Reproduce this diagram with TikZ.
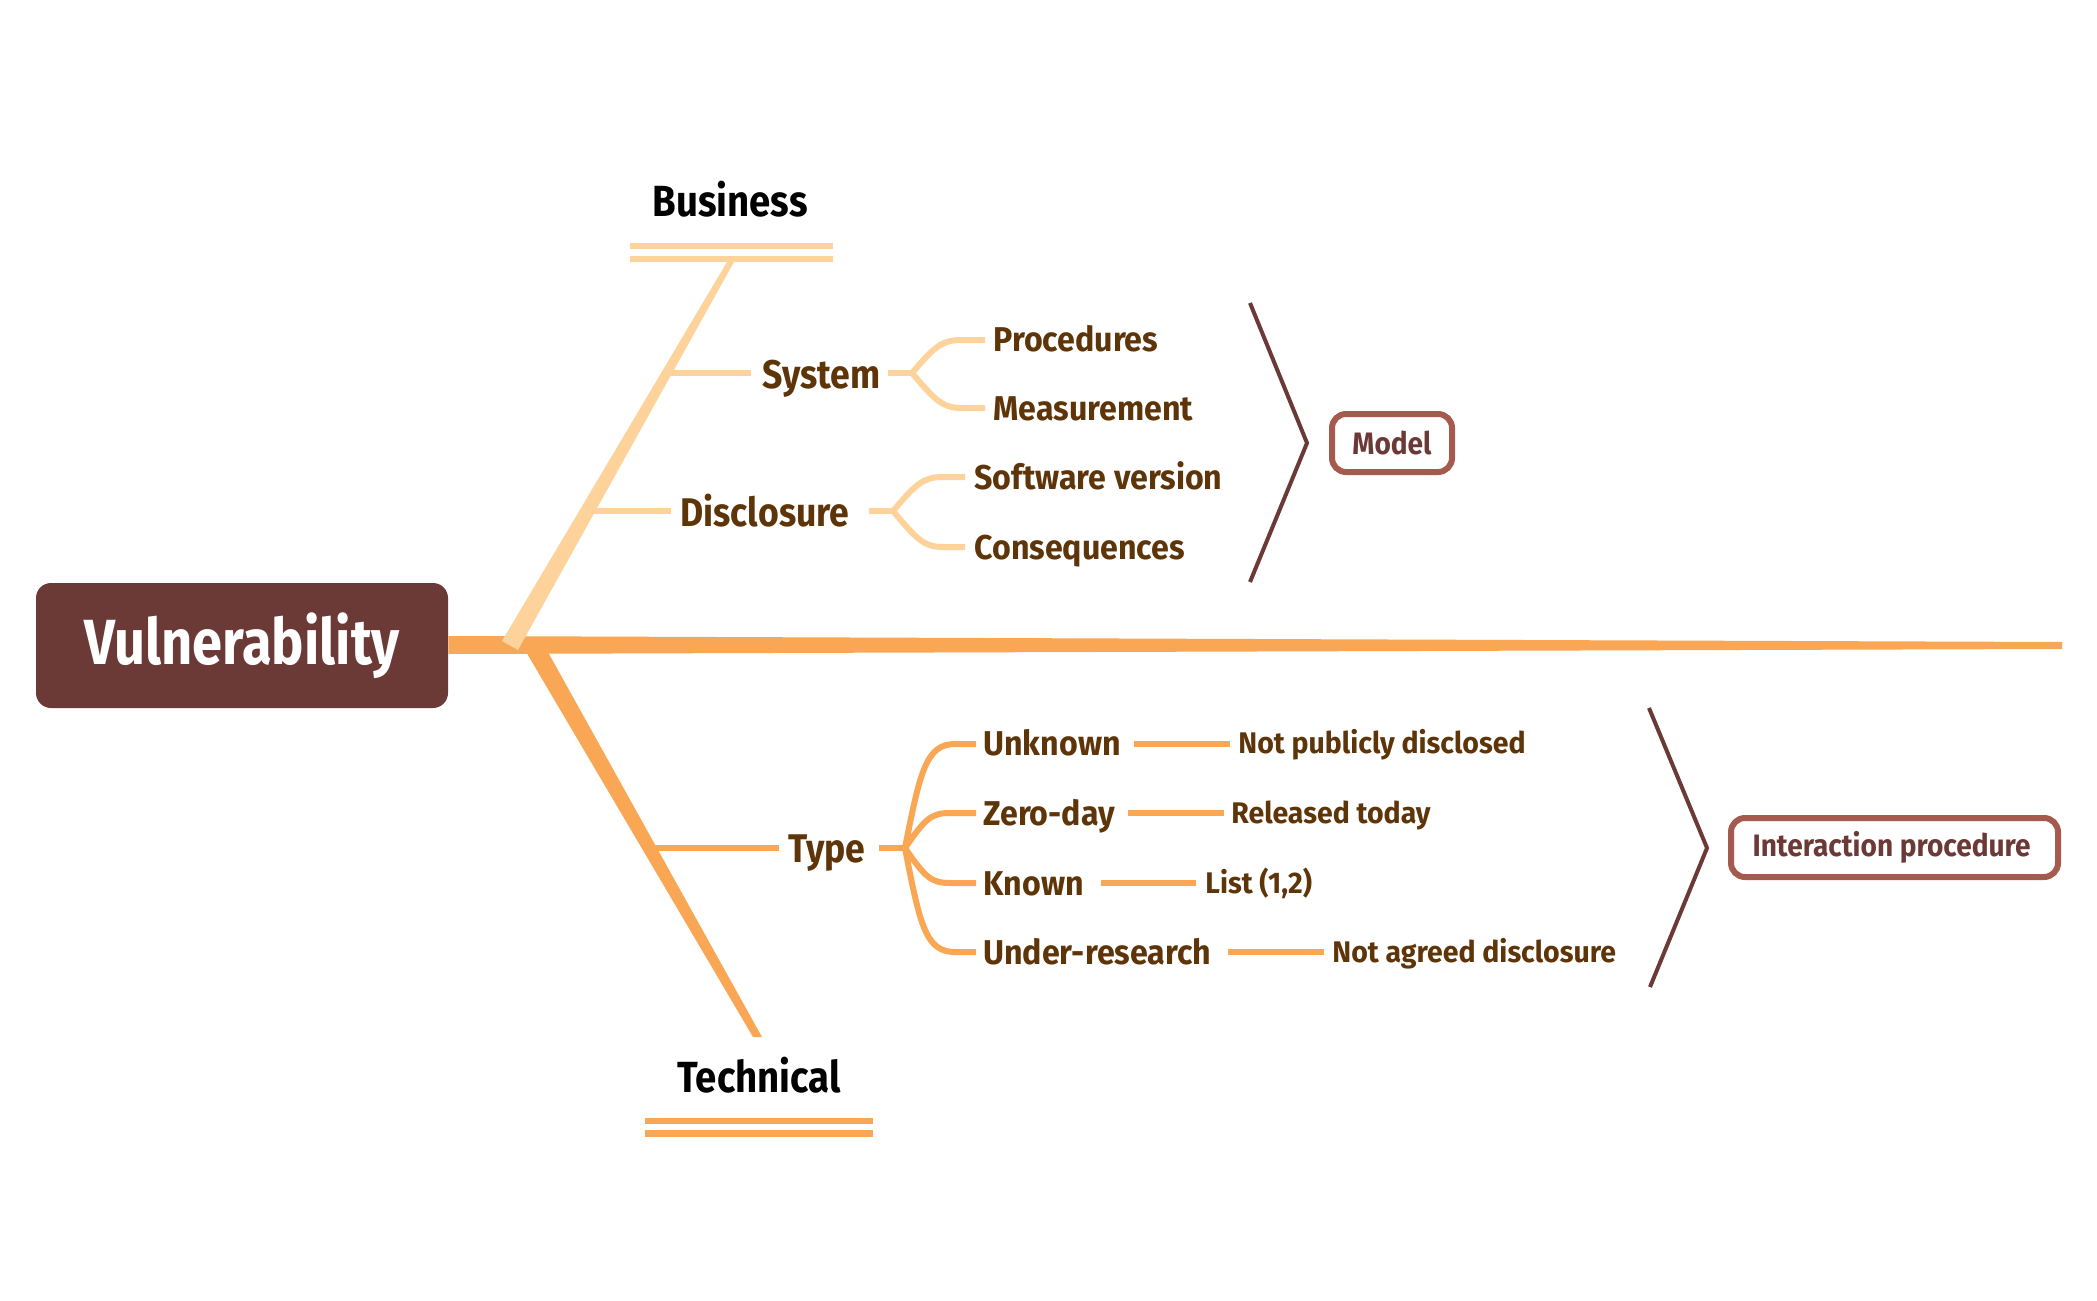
\documentclass[tikz,border=0pt]{standalone}
\usepackage{fontspec}
\setmainfont{Fira Sans}
\newfontfamily\lblfont[FakeStretch=0.89]{Fira Sans}
\newfontfamily\lbltwofont[FakeStretch=0.935]{Fira Sans}
\newfontfamily\lblthreefont[FakeStretch=0.955]{Fira Sans}
\newfontfamily\titlefont[FakeStretch=0.85]{Fira Sans}
\newfontfamily\headfont[FakeStretch=0.88]{Fira Sans}
\newfontfamily\tagfont[FakeStretch=0.905]{Fira Sans}
\definecolor{vbrown}{HTML}{6B3A37}
\definecolor{spine}{HTML}{F9A655}
\definecolor{peach}{HTML}{FDD39B}
\definecolor{lbl}{HTML}{5E3409}
\definecolor{boxline}{HTML}{A65A4E}
\begin{document}
\begin{tikzpicture}[x=0.5pt,y=-0.5pt,
  lvlone/.style={font=\lblfont\bfseries\fontsize{20}{24}\selectfont, text=lbl, inner sep=0pt, anchor=base west},
  lvltwo/.style={font=\lbltwofont\bfseries\fontsize{17.2}{20}\selectfont, text=lbl, inner sep=0pt, anchor=base west},
  lvlthree/.style={font=\lblthreefont\bfseries\fontsize{14.9}{18}\selectfont, text=lbl, inner sep=0pt, anchor=base west},
  head/.style={font=\headfont\bfseries\fontsize{21.8}{26}\selectfont, text=black, inner sep=0pt, anchor=base},
  peachline/.style={draw=peach, line width=3pt},
  orline/.style={draw=spine, line width=3pt},
  dbl/.style={line width=3.25pt},
  bracket/.style={draw=vbrown, line width=2pt},
  tagbox/.style={draw=boxline, line width=3pt, rounded corners=7pt, fill=white, text=vbrown,
     font=\tagfont\bfseries\fontsize{15.5}{18}\selectfont, inner sep=0pt, anchor=center}
]
\useasboundingbox (0,0) rectangle (2097,1300);
\fill[white] (0,0) rectangle (2097,1300);

% ---- root
\node[fill=vbrown, rounded corners=7.5pt, minimum width=206pt, minimum height=62.5pt,
      text=white, font=\titlefont\bfseries\fontsize{31.9}{36}\selectfont, inner sep=0pt]
      (root) at (242,645.5) {Vulnerability};

% ---- spine and main branches
\fill[spine] (root.east |- 0,636) -- (2062,642) -- (2062,649) -- (root.east |- 0,654) -- cycle;
\fill[spine] (522,645) -- (544,645) -- (762,1037) -- (753,1037) -- cycle;
\fill[peach] (502,641) -- (518,650) -- (734,262) -- (727,262) -- cycle;

% ---- headings
\node[head] (business) at (730,217) {Business};
\draw[peach, dbl] (630,246) -- (833,246);
\draw[peach, dbl] (630,259) -- (833,259);
\node[head] (technical) at (759,1092) {Technical};
\draw[spine, dbl] (645,1121) -- (873,1121);
\draw[spine, dbl] (645,1133.5) -- (873,1133.5);

% ---- Business side
\node[lvlone] (system) at (762,388) {System};
\node[lvltwo] (proc) at (993,351) {Procedures};
\node[lvltwo] (meas) at (993,420) {Measurement};
\coordinate (sysA) at (668,373);
\coordinate (sysB) at (751,373);
\coordinate (sysC) at (888,373);
\coordinate (sysF) at (912,373);
\coordinate (procE) at (985,340);
\coordinate (measE) at (985,408);
\draw[peachline] (sysA) -- (sysB);
\draw[peachline] (sysC) -- (sysF);
\draw[peachline] (sysF) .. controls (935,346) and (942,340) .. (962,340) -- (procE);
\draw[peachline] (sysF) .. controls (935,400) and (942,408) .. (962,408) -- (measE);

\node[lvlone] (disc) at (680,526) {Disclosure};
\node[lvltwo] (soft) at (974,489) {Software version};
\node[lvltwo] (cons) at (974,559) {Consequences};
\coordinate (discA) at (593,511);
\coordinate (discB) at (671,511);
\coordinate (discC) at (869,511);
\coordinate (discF) at (893,511);
\coordinate (softE) at (965,477);
\coordinate (consE) at (965,547);
\draw[peachline] (discA) -- (discB);
\draw[peachline] (discC) -- (discF);
\draw[peachline] (discF) .. controls (916,484) and (923,477) .. (943,477) -- (softE);
\draw[peachline] (discF) .. controls (916,538) and (923,547) .. (943,547) -- (consE);

\coordinate (brA1) at (1250,303);
\coordinate (brA2) at (1307,443);
\coordinate (brA3) at (1250,582);
\draw[bracket] (brA1) -- (brA2) -- (brA3);
\node[tagbox, minimum width=60pt, minimum height=29pt] (model) at (1392,443) {Model};

% ---- Technical side
\node[lvlone] (type) at (788,862) {Type};
\coordinate (typA) at (655,848);
\coordinate (typB) at (779,848);
\coordinate (typC) at (879,848);
\coordinate (typF) at (905,848);
\draw[orline] (typA) -- (typB);
\draw[orline] (typC) -- (typF);

\node[lvltwo] (unk) at (983,755) {Unknown};
\node[lvltwo] (zero) at (983,825) {Zero-day};
\node[lvltwo] (known) at (983,895) {Known};
\node[lvltwo] (under) at (983,964) {Under-research};
\coordinate (unkE) at (976,744);
\coordinate (zeroE) at (976,813);
\coordinate (knownE) at (976,883);
\coordinate (underE) at (976,952);
\draw[orline] (typF) .. controls (920,772) and (926,744) .. (955,744) -- (unkE);
\draw[orline] (typF) .. controls (925,819) and (931,813) .. (950,813) -- (zeroE);
\draw[orline] (typF) .. controls (925,877) and (931,883) .. (950,883) -- (knownE);
\draw[orline] (typF) .. controls (920,926) and (926,952) .. (955,952) -- (underE);

\node[lvlthree] (unkD) at (1238,753) {Not publicly disclosed};
\node[lvlthree] (zeroD) at (1231,823) {Released today};
\node[lvlthree] (knownD) at (1205,893) {List (1,2)};
\node[lvlthree] (underD) at (1332,962) {Not agreed disclosure};
\coordinate (l1a) at (1134,744); \coordinate (l1b) at (1230,744);
\coordinate (l2a) at (1128,813); \coordinate (l2b) at (1224,813);
\coordinate (l3a) at (1101,883); \coordinate (l3b) at (1196,883);
\coordinate (l4a) at (1228,952); \coordinate (l4b) at (1324,952);
\draw[orline] (l1a) -- (l1b);
\draw[orline] (l2a) -- (l2b);
\draw[orline] (l3a) -- (l3b);
\draw[orline] (l4a) -- (l4b);

\coordinate (brB1) at (1649,708);
\coordinate (brB2) at (1707,848);
\coordinate (brB3) at (1650,987);
\draw[bracket] (brB1) -- (brB2) -- (brB3);
\node[tagbox, minimum width=163.5pt, minimum height=29.5pt] (inter) at (1894.5,847.5) {\hspace*{-3pt}Interaction procedure};
\end{tikzpicture}
\end{document}
